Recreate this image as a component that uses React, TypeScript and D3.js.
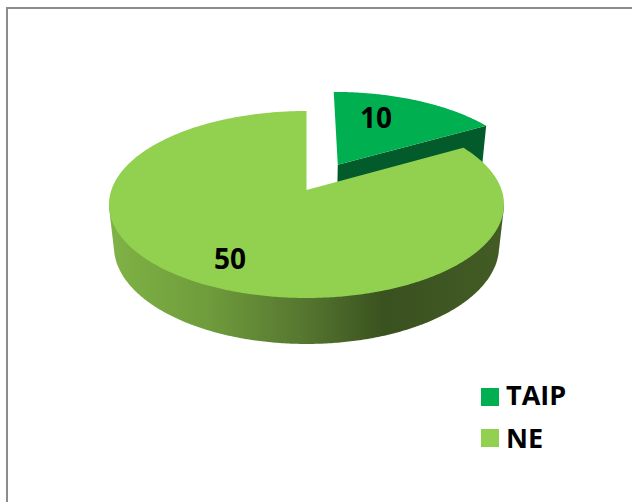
import React from "react";
import * as d3 from "d3";

const categories = ["TAIP", "NE"];
const values = [10, 50];
const topColors = ["#00b050", "#92d050"];
const cutColors = ["#035a2a"];

const X0 = 306.5, Y0 = 190, A = 195.1, B = 91.25, K = 0.155, C = 42.7, M = 0.025;
const EXPLODE = 0.335;

type P = [number, number];
function project(u: number, v: number, h: number): P {
  const w = 1 - K * v + M * h;
  return [X0 + (A * u) / w, Y0 + (B * v + C * h) / w];
}
function rimPoint(t: number, ox: number, oy: number, h: number): P {
  return project(ox + Math.sin(t), oy - Math.cos(t), h);
}
function arcPoints(a0: number, a1: number, ox: number, oy: number, h: number): P[] {
  const n = Math.max(2, Math.ceil(Math.abs(a1 - a0) / 0.01));
  return d3.range(n + 1).map((i) => rimPoint(a0 + ((a1 - a0) * i) / n, ox, oy, h));
}
const toPath = (pts: P[]) => (d3.line()(pts) ?? "") + "Z";

const arcs = d3.pie<number>().sort(null)(values);
const taip = arcs[0];
const ne = arcs[1];

// exploded slice offset along its bisector
const mid = (taip.startAngle + taip.endAngle) / 2;
const ox = EXPLODE * Math.sin(mid);
const oy = -EXPLODE * Math.cos(mid);

const taipTop: P[] = [project(ox, oy, 0), ...arcPoints(taip.startAngle, taip.endAngle, ox, oy, 0)];
const taipCut: P[] = [
  project(ox, oy, 0),
  rimPoint(taip.endAngle, ox, oy, 0),
  rimPoint(taip.endAngle, ox, oy, 1),
  project(ox, oy, 1),
];
const neTop: P[] = [project(0, 0, 0), ...arcPoints(ne.startAngle, ne.endAngle, 0, 0, 0)];

// front wall: tangent points of the tilted ellipse sit a little below its pivot
const wallStart = Math.PI - Math.acos(K);
const wallEnd = Math.PI + Math.acos(K);
const neWall: P[] =
  d3.polygonHull([
    ...arcPoints(wallStart, wallEnd, 0, 0, 0),
    ...arcPoints(wallStart, wallEnd, 0, 0, 1),
  ]) ?? [];

const valueStyle = {
  fontFamily: "'Open Sans', sans-serif",
  fontWeight: 700,
  fontSize: 28,
  fill: "#000",
} as const;
const legendStyle = { ...valueStyle, fontSize: 27 } as const;

export default function App() {
  return (
    <svg
      width={632}
      height={502}
      style={{ position: "fixed", left: 0, top: 0, background: "#fff" }}
    >
      <defs>
        <linearGradient id="wall" gradientUnits="userSpaceOnUse" x1={108} x2={503} y1={0} y2={0}>
          <stop offset="0" stopColor="#80b346" />
          <stop offset="0.25" stopColor="#6f9c3c" />
          <stop offset="0.5" stopColor="#55762f" />
          <stop offset="0.7" stopColor="#3a5120" />
          <stop offset="1" stopColor="#435c24" />
        </linearGradient>
      </defs>

      <path d="M7,502V8H632" fill="none" stroke="#8c8c8c" strokeWidth={2} />

      <path d={toPath(taipCut)} fill={cutColors[0]} />
      <path d={toPath(taipTop)} fill={topColors[0]} />
      <path d={toPath(neWall)} fill="url(#wall)" />
      <path d={toPath(neTop)} fill={topColors[1]} />

      <text x={376} y={127.5} textAnchor="middle" style={valueStyle}>{values[0]}</text>
      <text x={230} y={268.5} textAnchor="middle" style={valueStyle}>{values[1]}</text>

      {categories.map((c, i) => (
        <g key={c}>
          <rect x={481} y={388 + i * 41} width={18} height={18} fill={topColors[i]} />
          <text x={506} y={405 + i * 43} style={legendStyle}>{c}</text>
        </g>
      ))}
    </svg>
  );
}
